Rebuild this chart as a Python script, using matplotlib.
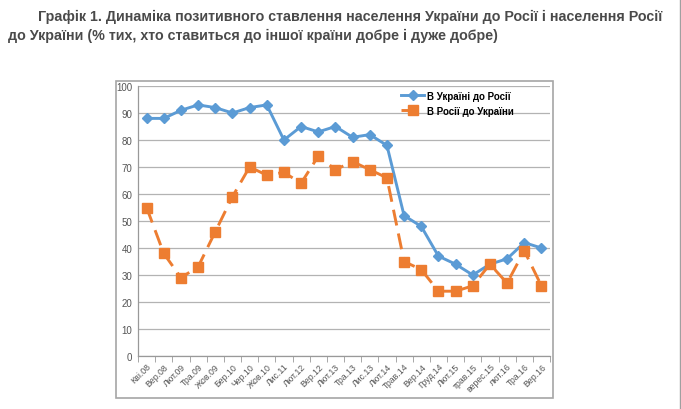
import matplotlib
matplotlib.use('Agg')
import matplotlib.pyplot as plt
from matplotlib.patches import Rectangle
from matplotlib.lines import Line2D

# Data
labels = ['Кві.08', 'Вер.08', 'Лют.09', 'Тра.09', 'Жов.09', 'Бер.10', 'Чер.10', 'Жов.10',
          'Лис.11', 'Лют.12', 'Вер.12', 'Лют.13', 'Тра.13', 'Лис.13', 'Лют.14', 'Трав.14',
          'Вер.14', 'Груд.14', 'Лют.15', 'трав.15', 'верес.15', 'лют.16', 'Тра.16', 'Вер.16']
ua_to_ru = [88, 88, 91, 93, 92, 90, 92, 93, 80, 85, 83, 85, 81, 82, 78, 52,
            48, 37, 34, 30, 34, 36, 42, 40]
ru_to_ua = [55, 38, 29, 33, 46, 59, 70, 67, 68, 64, 74, 69, 72, 69, 66, 35,
            32, 24, 24, 26, 34, 27, 39, 26]
series_names = ['В Україні до Росії', 'В Росії до України']

W, H = 681, 410
fig = plt.figure(figsize=(W / 100, H / 100), dpi=100)
plt.rcParams['font.family'] = ['Liberation Sans', 'DejaVu Sans']

# Title
title_color = '#4a4a4a'
fig.text(38 / W, 1 - 17 / H, 'Графік 1. Динаміка позитивного ставлення населення України до Росії і населення Росії',
         fontsize=10.3, fontweight='bold', color=title_color, va='center', ha='left')
fig.text(8 / W, 1 - 36 / H, 'до України (% тих, хто ставиться до іншої країни добре і дуже добре)',
         fontsize=10.3, fontweight='bold', color=title_color, va='center', ha='left')

# chart frame and page edge
fig.patches.append(Rectangle((116 / W, 1 - 399 / H), (553 - 116) / W, (399 - 82) / H,
                             transform=fig.transFigure, fill=False, edgecolor='#a6a6a6', lw=1.2))
fig.lines.append(Line2D([680 / W, 680 / W], [0, 1], transform=fig.transFigure, color='#a0a0a0', lw=1))

ax = fig.add_axes([138 / W, 1 - 357 / H, (550 - 138) / W, (357 - 87) / H])
x = range(len(labels))

ax.plot(x, ua_to_ru, color='#5b9bd5', lw=2.1, marker='D', markersize=5.5, label=series_names[0], zorder=3)
ax.plot(x, ru_to_ua, color='#ed7d31', lw=2.1, marker='s', markersize=7, label=series_names[1],
        linestyle=(0, (5.5, 2.8)), zorder=3)

ax.set_xlim(-0.5, len(labels) - 0.5)
ax.set_ylim(0, 100)
ax.set_yticks(range(0, 101, 10))
ax.yaxis.grid(True, color='#b3b3b3', lw=0.9)
ax.set_axisbelow(True)

ax.set_xticks(list(x))
ax.set_xticklabels(labels, rotation=45, ha='right', rotation_mode='anchor', fontsize=6.3, color='#555555')
ax.set_xticks([i - 0.5 for i in range(len(labels) + 1)], minor=True)
ax.tick_params(axis='x', which='major', length=0, pad=4)
ax.tick_params(axis='x', which='minor', length=4, color='#999999', direction='out')
ax.tick_params(axis='y', length=0, labelsize=7, labelcolor='#555555', pad=4)

for s in ['top', 'right']:
    ax.spines[s].set_visible(False)
for s in ['left', 'bottom']:
    ax.spines[s].set_color('#999999')
    ax.spines[s].set_linewidth(0.9)

leg = ax.legend(loc='upper left', bbox_to_anchor=((396 - 138) / (550 - 138), 1.0), frameon=False,
                prop={'size': 7, 'weight': 'bold'}, handlelength=2.4, handletextpad=0.3,
                labelspacing=0.5, borderaxespad=0.1)

fig.savefig('out.png', dpi=100)
